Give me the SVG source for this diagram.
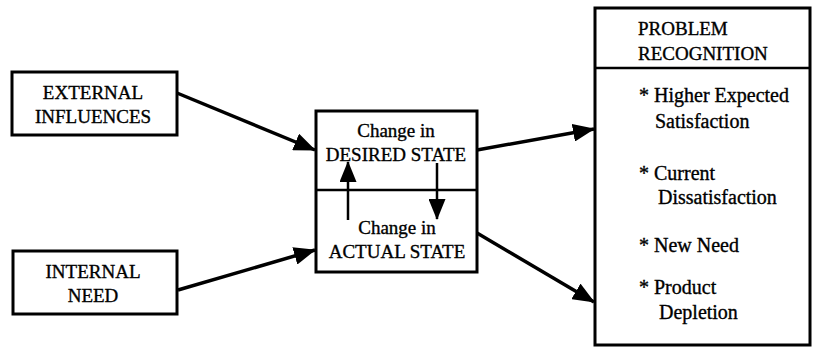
<svg xmlns="http://www.w3.org/2000/svg" width="813" height="349" viewBox="0 0 813 349">
<defs>
<style>
.box{fill:#fff;stroke:#000;stroke-width:3}
.div{stroke:#000;stroke-width:2.5}
.t{font-family:"Liberation Serif","Times New Roman",serif;font-size:19px;fill:#000;stroke:#000;stroke-width:0.35}
.c{text-anchor:middle}
.r{font-size:20px}
.conn{stroke:#000;stroke-width:3.5;fill:none}
.inner{stroke:#000;stroke-width:2.5;fill:none}
</style>
<marker id="ah" markerUnits="userSpaceOnUse" markerWidth="22" markerHeight="18" refX="21" refY="9" orient="auto">
<path d="M0,0 L22,9 L0,18 z" fill="#000"/>
</marker>
<marker id="ah2" markerUnits="userSpaceOnUse" markerWidth="21" markerHeight="17" refX="20" refY="8.5" orient="auto">
<path d="M0,0 L21,8.5 L0,17 z" fill="#000"/>
</marker>
</defs>
<rect width="813" height="349" fill="#fff"/>
<g id="external">
<rect class="box" x="12" y="72" width="165" height="63"/>
<text class="t c" x="93" y="99">EXTERNAL</text>
<text class="t c" x="93" y="123">INFLUENCES</text>
</g>
<g id="internal">
<rect class="box" x="13" y="251" width="164" height="63"/>
<text class="t c" x="93" y="278">INTERNAL</text>
<text class="t c" x="93" y="302">NEED</text>
</g>
<g id="state">
<rect class="box" x="316" y="111" width="161" height="161"/>
<line class="div" x1="316" y1="190" x2="477" y2="190"/>
<text class="t c" x="396" y="137">Change in</text>
<text class="t c" x="396" y="161">DESIRED STATE</text>
<text class="t c" x="397" y="234">Change in</text>
<text class="t c" x="397" y="258">ACTUAL STATE</text>
</g>
<g id="problem">
<rect class="box" x="595" y="8" width="215" height="337"/>
<line class="div" x1="595" y1="68" x2="810" y2="68"/>
<text class="t" x="638" y="35">PROBLEM</text>
<text class="t" x="638" y="60">RECOGNITION</text>
<text class="t r" x="639" y="102">* Higher Expected</text>
<text class="t r" x="655" y="128">Satisfaction</text>
<text class="t r" x="639" y="180">* Current</text>
<text class="t r" x="658" y="204">Dissatisfaction</text>
<text class="t r" x="639" y="252">* New Need</text>
<text class="t r" x="639" y="294">* Product</text>
<text class="t r" x="659" y="319">Depletion</text>
</g>
<g id="connectors">
<line class="conn" x1="177" y1="93" x2="315" y2="150" marker-end="url(#ah)"/>
<line class="conn" x1="178" y1="290" x2="315" y2="250" marker-end="url(#ah)"/>
<line class="conn" x1="477" y1="150" x2="594" y2="129" marker-end="url(#ah)"/>
<line class="conn" x1="477" y1="233" x2="594" y2="302" marker-end="url(#ah)"/>
<line class="inner" x1="348" y1="220" x2="348" y2="162" marker-end="url(#ah2)"/>
<line class="inner" x1="437" y1="163" x2="437" y2="219" marker-end="url(#ah2)"/>
</g>
</svg>
